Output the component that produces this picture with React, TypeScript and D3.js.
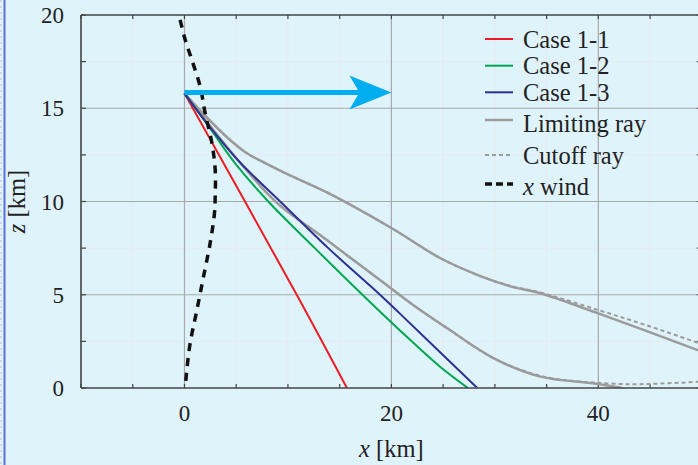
import React from "react";
import * as d3 from "d3";

type P = [number, number];

const xTicksMajor = [0, 20, 40];
const yTicksMajor = [0, 5, 10, 15, 20];

const case11: P[] = [[0, 15.8], [10.85, 5], [15.7, 0]];
const case12: P[] = [[0, 15.8], [2.5, 13.9], [4.9, 12.05], [8.1, 10], [12.6, 7.5], [17.2, 5], [20.8, 3.1], [24.7, 1.14], [27.4, 0]];
const case13: P[] = [[0, 15.8], [2.6, 13.9], [5.45, 12.05], [9.25, 10], [13.9, 7.5], [18.9, 5], [20.8, 4], [28.3, 0]];
const limitLow: P[] = [[0, 15.8], [2.7, 13.9], [5.5, 12.0], [9.0, 9.9], [13.6, 8.0], [18.9, 5.79], [22.1, 4.45], [25.4, 3.2], [29.9, 1.59], [34.4, 0.61], [39.5, 0.25], [42.3, 0.0]];
const cutoffLow: P[] = [[0, 15.8], [2.7, 13.9], [5.5, 12.0], [9.0, 9.9], [13.6, 8.0], [18.9, 5.79], [22.1, 4.45], [25.4, 3.2], [29.9, 1.59], [34.4, 0.65], [38, 0.35], [40, 0.28], [43, 0.2], [46, 0.24], [50, 0.34]];
const limitHigh: P[] = [[0, 15.8], [2.0, 14.6], [4.0, 13.5], [6.0, 12.6], [8.0, 12.0], [10, 11.45], [14.1, 10.4], [20, 8.58], [24.7, 6.97], [28.6, 6.0], [31.5, 5.45], [34.4, 5.08], [40, 4.0], [50, 1.95]];
const cutoffHigh: P[] = [[0, 15.8], [2.0, 14.6], [4.0, 13.5], [6.0, 12.6], [8.0, 12.0], [10, 11.45], [14.1, 10.4], [20, 8.58], [24.7, 6.97], [28.6, 6.0], [31.5, 5.48], [34.4, 5.12], [40, 4.18], [45, 3.3], [50, 2.35]];
const xWind: P[] = [[-0.42, 19.74], [0.07, 18.67], [0.71, 17.6], [1.52, 16.16], [2.0, 14.74], [2.65, 13.13], [2.97, 11.7], [2.97, 10.26], [2.9, 9.37], [2.48, 7.76], [1.84, 5.97], [1.2, 4.18], [0.55, 2.4], [0.23, 0.97], [0.07, 0.0]];
const arrow: P[] = [[0, 15.85], [20, 15.85]];

const legendItems = [
  { label: "Case 1-1", color: "#ED1C24", width: 2, dash: "" },
  { label: "Case 1-2", color: "#00A651", width: 2, dash: "" },
  { label: "Case 1-3", color: "#2E3192", width: 2, dash: "" },
  { label: "Limiting ray", color: "#9b9b9b", width: 2.5, dash: "" },
  { label: "Cutoff ray", color: "#9b9b9b", width: 2, dash: "4 3" },
  { label: "wind", color: "#111", width: 3.5, dash: "7 4" },
];
const legendBaselines = [48.3, 74.4, 100.7, 131.7, 164, 195];
const legendLineY = [39, 65.7, 92.3, 120, 155, 184];

export default function App() {
  const L = 81, R = 701.8, T = 15, B = 388;
  const x = d3.scaleLinear().domain([-10, 50]).range([L, R]);
  const y = d3.scaleLinear().domain([0, 20]).range([B, T]);
  const line = d3.line<P>().x(d => x(d[0])).y(d => y(d[1])).curve(d3.curveCatmullRom.alpha(0.5));
  const serif = "'Liberation Serif', 'DejaVu Serif', serif";

  const xMinor = d3.range(-10, 50.01, 5);
  const yMinor = d3.range(0, 20.01, 2.5);
  const ax = x(arrow[0][0]), ay = y(arrow[0][1]), tip = x(arrow[1][0]);

  return (
    <svg width={698} height={465} style={{ position: "fixed", left: 0, top: 0, background: "#dff3fb" }} fontFamily={serif}>
      <defs>
        <clipPath id="plot"><rect x={L} y={T} width={R - L} height={B - T} /></clipPath>
      </defs>
      <rect x={0} y={0} width={698} height={465} fill="#dff3fb" />
      <line x1={1} x2={1} y1={0} y2={465} stroke="#b9b9c4" strokeWidth={1} strokeDasharray="2 4" />
      <line x1={4.5} x2={4.5} y1={0} y2={465} stroke="#5a6ee0" strokeWidth={2} />

      {/* minor grid */}
      {xMinor.filter(v => !xTicksMajor.includes(v) && v > -10).map(v => (
        <line key={"gx" + v} x1={x(v)} x2={x(v)} y1={T} y2={B} stroke="#e6ebee" strokeWidth={1} />
      ))}
      {yMinor.filter(v => !yTicksMajor.includes(v)).map(v => (
        <line key={"gy" + v} x1={L} x2={R} y1={y(v)} y2={y(v)} stroke="#e6ebee" strokeWidth={1} />
      ))}
      {/* major grid */}
      {xTicksMajor.map(v => (
        <line key={"Gx" + v} x1={x(v)} x2={x(v)} y1={T} y2={B} stroke="#a9a9a9" strokeWidth={1.2} />
      ))}
      {yTicksMajor.filter(v => v > 0 && v < 20).map(v => (
        <line key={"Gy" + v} x1={L} x2={R} y1={y(v)} y2={y(v)} stroke="#a9a9a9" strokeWidth={1.2} />
      ))}

      {/* ticks */}
      {xMinor.map(v => (
        <g key={"tx" + v}>
          <line x1={x(v)} x2={x(v)} y1={B} y2={B - 4} stroke="#444" strokeWidth={1.2} />
          <line x1={x(v)} x2={x(v)} y1={T} y2={T + 4} stroke="#444" strokeWidth={1.2} />
        </g>
      ))}
      {yMinor.map(v => (
        <g key={"ty" + v}>
          <line x1={L} x2={L + 5} y1={y(v)} y2={y(v)} stroke="#444" strokeWidth={1.2} />
          <line x1={R} x2={R - 5} y1={y(v)} y2={y(v)} stroke="#444" strokeWidth={1.2} />
        </g>
      ))}

      <g clipPath="url(#plot)" fill="none">
        <path d={line(cutoffLow) || ""} stroke="#9b9b9b" strokeWidth={2} strokeDasharray="4 3" />
        <path d={line(cutoffHigh) || ""} stroke="#9b9b9b" strokeWidth={2} strokeDasharray="4 3" />
        <path d={line(limitLow) || ""} stroke="#9b9b9b" strokeWidth={2.5} />
        <path d={line(limitHigh) || ""} stroke="#9b9b9b" strokeWidth={2.5} />
        <path d={line(case11) || ""} stroke="#ED1C24" strokeWidth={2} />
        <path d={line(case12) || ""} stroke="#00A651" strokeWidth={2} />
        <path d={line(case13) || ""} stroke="#2E3192" strokeWidth={2} />
        <path d={line(xWind) || ""} stroke="#111" strokeWidth={3.5} strokeDasharray="8 7" />
        <line x1={ax} x2={tip - 30} y1={ay} y2={ay} stroke="#00AEEF" strokeWidth={5} />
        <path d={`M${tip},${ay} L${tip - 42},${ay - 17} L${tip - 32},${ay} L${tip - 42},${ay + 17} Z`} fill="#00AEEF" />
      </g>

      {/* frame */}
      <line x1={L} x2={R} y1={B} y2={B} stroke="#444" strokeWidth={1.6} />
      <line x1={L} x2={R} y1={T} y2={T} stroke="#444" strokeWidth={1.6} />
      <line x1={L} x2={L} y1={T} y2={B} stroke="#444" strokeWidth={1.6} />

      {/* tick labels */}
      {xTicksMajor.map(v => (
        <text key={"lx" + v} x={x(v)} y={421} textAnchor="middle" fontSize={23} fill="#222">{v}</text>
      ))}
      {yTicksMajor.map(v => (
        <text key={"ly" + v} x={64} y={y(v) + 8} textAnchor="end" fontSize={23} fill="#222">{v}</text>
      ))}
      <text x={(L + R) / 2} y={457} textAnchor="middle" fontSize={24.5} fill="#222">
        <tspan fontStyle="italic">x</tspan> [km]
      </text>
      <text transform={`translate(25,${(T + B) / 2}) rotate(-90)`} textAnchor="middle" fontSize={24.5} fill="#222">
        <tspan fontStyle="italic">z</tspan> [km]
      </text>

      {/* legend */}
      {legendItems.map((it, i) => {
        const yb = legendBaselines[i];
        const ly = legendLineY[i];
        return (
          <g key={"lg" + i}>
            <line x1={485} x2={513} y1={ly} y2={ly} stroke={it.color} strokeWidth={it.width} strokeDasharray={it.dash || undefined} />
            <text x={523} y={yb} fontSize={24.5} fill="#222">
              {i === 5 ? <><tspan fontStyle="italic">x</tspan> wind</> : it.label}
            </text>
          </g>
        );
      })}
    </svg>
  );
}
